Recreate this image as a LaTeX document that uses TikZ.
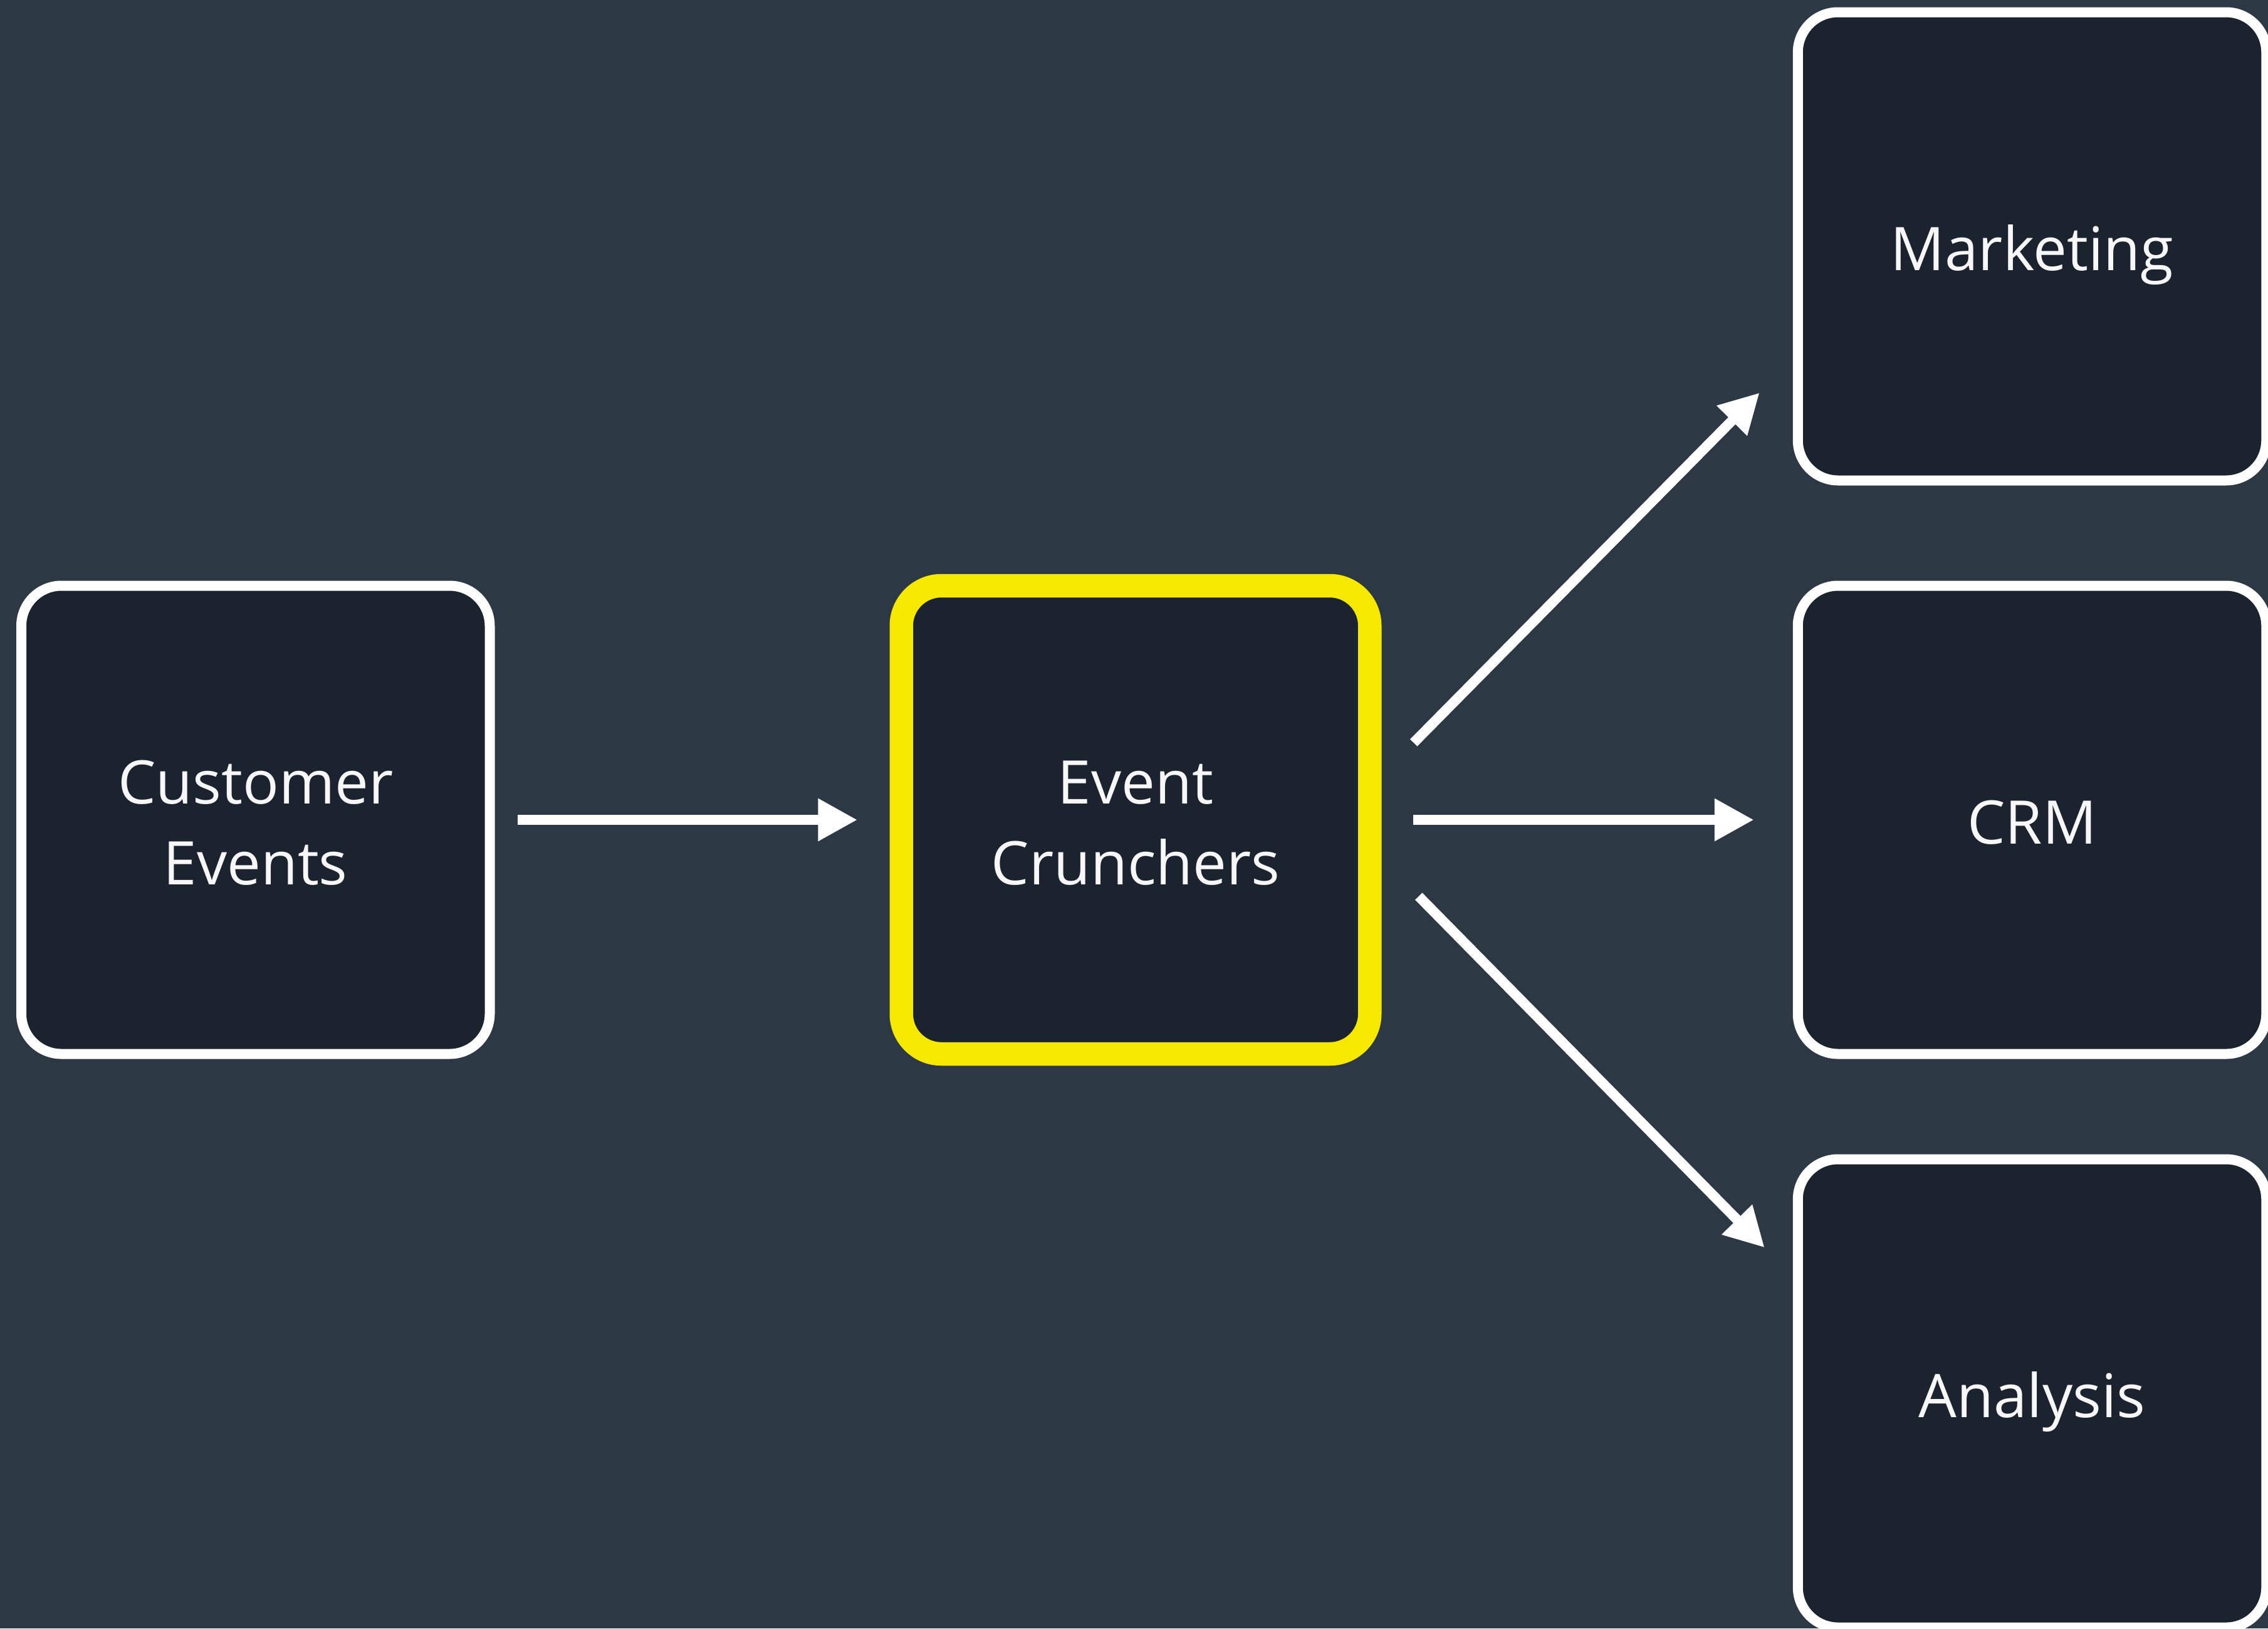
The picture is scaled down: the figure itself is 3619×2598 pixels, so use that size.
\documentclass[tikz,border=0pt]{standalone}
\usepackage{fontspec}
\setmainfont{Open Sans}
\usetikzlibrary{arrows.meta,calc}

\definecolor{canvas}{HTML}{2D3845}
\definecolor{boxfill}{HTML}{1B232E}
\definecolor{hilite}{HTML}{F5E900}
\definecolor{labeltext}{HTML}{F7F7F7}

\begin{document}
\begin{tikzpicture}[
    x=0.5pt, y=-0.5pt,
    stage/.style={
      rectangle, rounded corners=32pt, fill=boxfill,
      draw=white, line width=8pt,
      minimum width=373.75pt, minimum height=373.5pt,
      inner sep=0pt, outer sep=0pt,
      text=labeltext, align=center,
      font=\fontsize{48}{64.5}\selectfont
    },
    focus/.style={stage, draw=hilite, line width=18.75pt},
    oneline/.style={text height=38.6pt, text depth=0pt},
    twoline/.style={text height=103.1pt, text depth=0pt},
    flow/.style={
      draw=white, line width=8pt,
      -{Triangle[length=31.5pt, width=32pt]}
    }
  ]
  % canvas
  \useasboundingbox (0,0) rectangle (3619,2598);
  \clip (0,0) rectangle (3619,2598);
  \fill[canvas] (0,0) rectangle (3619,2598);

  % stages
  \node[stage, twoline] (ce) at (407.75,1308) {Customer\\Events};
  \node[focus, twoline] (ec) at (1812,1308) {Event\\Crunchers};
  \node[stage, oneline] (mk) at (3242.5,393) {Marketing};
  \node[stage, oneline] (crm) at (3242.5,1308) {CRM};
  \node[stage, oneline] (an) at (3242.5,2223) {Analysis};

  % flows
  \draw[flow] ($(ce.east)+(44,0)$) -- ($(ec.west)+(-70,0)$);
  \draw[flow] ($(ec.east)+(69,0)$) -- ($(crm.west)+(-70,0)$);
  \draw[flow] ($(ec.east)+(70,-123)$) -- ($(mk.south west)+(-61,-140)$);
  \draw[flow] ($(ec.east)+(78,122)$) -- ($(an.north west)+(-53,141)$);
\end{tikzpicture}
\end{document}
